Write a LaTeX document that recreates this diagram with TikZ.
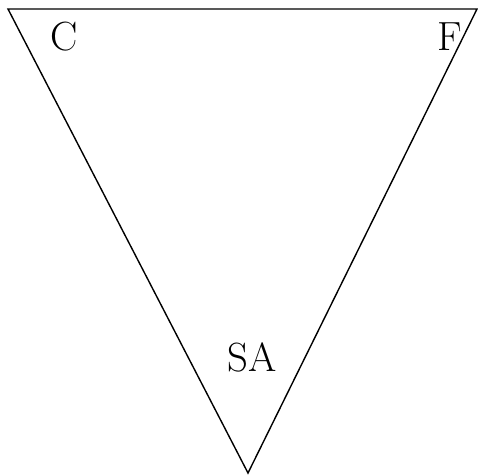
\documentclass[tikz,border=0pt]{standalone}
\usepackage{tikz}
\usetikzlibrary{positioning}

\begin{document}
\begin{tikzpicture}[
    x=0.025cm, y=-0.025cm,
    corner/.style={font=\fontsize{29}{34}\selectfont, inner sep=0pt},
    edge/.style={black, line width=1pt, line join=miter}
]
    \useasboundingbox (0,0) rectangle (478,474);
    \coordinate (topleft)  at (8,9);
    \coordinate (topright) at (477,9);
    \coordinate (bottom)   at (248,473);
    \draw[edge] (topleft) -- (topright) -- (bottom) -- cycle;
    \node[corner] (c)  at (64,37)  {C};
    \node[corner] (f)  at (450,37) {F};
    \node[corner] (sa) at (252,357) {SA};
\end{tikzpicture}
\end{document}
